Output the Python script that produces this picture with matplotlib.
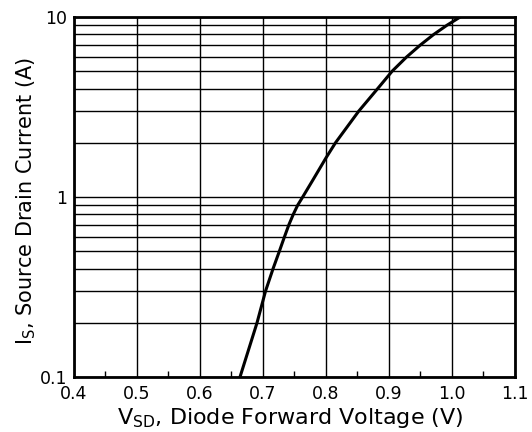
import matplotlib
matplotlib.use('Agg')
import matplotlib.pyplot as plt
from matplotlib.ticker import FixedLocator, FuncFormatter, LogLocator, NullFormatter
import numpy as np

plt.rcParams['font.family'] = ['DejaVu Sans']
plt.rcParams['mathtext.fontset'] = 'dejavusans'

# curve
v_sd = [0.6635, 0.6905, 0.704, 0.716, 0.726, 0.734, 0.741, 0.748, 0.755, 0.763,
        0.779, 0.800, 0.815, 0.852, 0.882, 0.905, 0.928, 0.950, 0.971, 0.992, 1.013]
i_s = [0.1, 0.2, 0.3, 0.4, 0.5, 0.6, 0.7, 0.8, 0.9, 1.0,
       1.24, 1.65, 2.0, 3.0, 4.0, 5.0, 6.0, 7.0, 8.0, 9.0, 10.0]

x_ticks = [0.4, 0.5, 0.6, 0.7, 0.8, 0.9, 1.0, 1.1]
x_tick_labels = ['0.4', '0.5', '0.6', '0.7', '0.8', '0.9', '1.0', '1.1']

fig = plt.figure(figsize=(5.32, 4.32), dpi=100)
ax = fig.add_axes([74/532, 1 - 377/432, (515-74)/532, (377-17)/432])

ax.plot(v_sd, i_s, color='black', linewidth=2.2, zorder=3)

ax.set_yscale('log')
ax.set_xlim(0.4, 1.1)
ax.set_ylim(0.1, 10)

ax.xaxis.set_major_locator(FixedLocator(x_ticks))
ax.set_xticklabels(x_tick_labels)
ax.xaxis.set_minor_locator(FixedLocator([0.45, 0.55, 0.65, 0.75, 0.85, 0.95, 1.05]))
ax.yaxis.set_major_locator(FixedLocator([0.1, 1, 10]))
ax.yaxis.set_major_formatter(FuncFormatter(lambda v, p: {0.1: '0.1', 1: '1', 10: '10'}.get(round(v, 1), '')))
ax.yaxis.set_minor_locator(LogLocator(base=10, subs=np.arange(2, 10)))
ax.yaxis.set_minor_formatter(NullFormatter())

ax.grid(True, which='major', color='black', linewidth=1.0)
ax.grid(True, which='minor', axis='y', color='black', linewidth=1.0)

ax.tick_params(axis='x', which='major', direction='in', length=0, labelsize=12.5, pad=6)
ax.tick_params(axis='y', which='major', direction='in', length=0, labelsize=12.5, pad=5)
ax.tick_params(axis='y', which='minor', length=0)
ax.tick_params(axis='x', which='minor', direction='in', length=4, width=1, color='black')

for s in ax.spines.values():
    s.set_linewidth(2.0)

ax.set_xlabel(r'V$_{\mathrm{SD}}$, Diode Forward Voltage (V)', fontsize=16)
ax.set_ylabel(r'I$_{\mathrm{S}}$, Source Drain Current (A)', fontsize=15)
ax.xaxis.set_label_coords(0.49, -0.08)
ax.yaxis.set_label_coords(-0.082, 0.49)

fig.savefig('out.png', dpi=100)
